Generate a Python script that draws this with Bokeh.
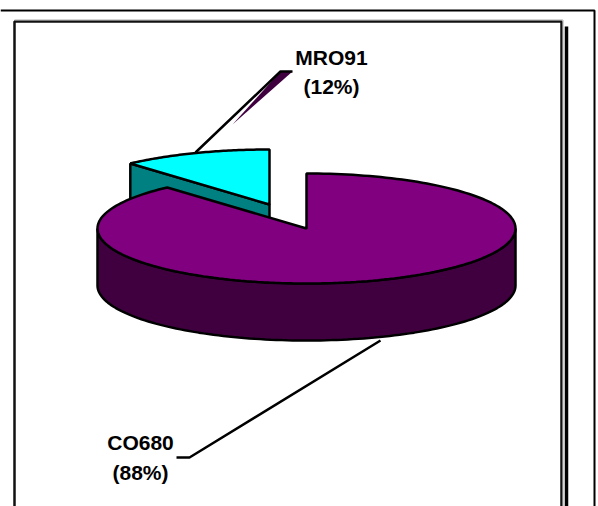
import numpy as np
from bokeh.plotting import figure
from bokeh.embed import file_html
from bokeh.resources import INLINE
from bokeh.core.properties import value

labels = ["CO680", "MRO91"]
shares = [88.4, 11.6]
percent_labels = ["(88%)", "(12%)"]
top_colors = ["#800080", "#00FFFF"]
side_colors = ["#400040", "#008080"]

W, H = 598, 506
CX, CY, RX, RY, DEPTH = 306, 228, 209, 55, 57
EXPLODE = (-37, -24)

p = figure(width=W, height=H, x_range=(0, W), y_range=(H, 0), output_backend="svg",
           toolbar_location=None, min_border=0, outline_line_color=None,
           background_fill_color="white", border_fill_color="white")
p.axis.visible = False
p.grid.visible = False
p.margin = (0, 0, 0, 0)


def ell(theta, cx=CX, cy=CY):
    # theta clockwise from top
    return cx + RX * np.sin(theta), cy - RY * np.cos(theta)


frac = np.array(shares) / sum(shares) * 2 * np.pi

# frame
p.line([0, 594, 594], [10, 10, 506], line_color="black", line_width=2)
p.line([14, 14, 561, 561], [506, 21, 21, 506], line_color="#111111", line_width=2.5)
p.line([14, 562.5, 562.5], [19.5, 19.5, 506], line_color="#aaaaaa", line_width=1)
p.line([566, 566], [26, 506], line_color="black", line_width=3.5)

# exploded slice (MRO91)
cx2, cy2 = CX + EXPLODE[0], CY + EXPLODE[1]
th2 = np.linspace(-frac[1], 0, 60)
ax, ay = ell(th2, cx2, cy2)
wx = [ax[0], cx2, cx2, ax[0]]
wy = [ay[0], cy2, cy2 + DEPTH, ay[0] + DEPTH]
p.patch(wx, wy, fill_color=side_colors[1], line_color="black", line_width=2.5)
p.patch(list(ax) + [cx2], list(ay) + [cy2], fill_color=top_colors[1], line_color="black", line_width=2.5)

# leader MRO91
p.patch([280, 292, 232], [71, 71, 124], fill_color="#400040", line_color=None)
p.line([195, 280, 292], [152, 71, 71], line_color="black", line_width=2.5)

# main slice wall (front arc)
th_w = np.linspace(np.pi / 2, 3 * np.pi / 2, 120)
bx, by = ell(th_w)
p.patch(list(bx) + list(bx[::-1]), list(by + DEPTH) + list(by[::-1]),
        fill_color=side_colors[0], line_color="black", line_width=2.5)

# main slice top
th1 = np.linspace(0, frac[0], 200)
mx, my = ell(th1)
p.patch([CX] + list(mx), [CY] + list(my), fill_color=top_colors[0], line_color="black", line_width=2.5)

# leader CO680
p.line([176, 189, 380], [457, 457, 340], line_color="black", line_width=2.5)

# labels
font = value("Liberation Sans")
p.text([331, 331], [57, 86], text=[labels[1], percent_labels[1]], text_font=font, text_font_style="bold",
       text_font_size="21px", text_align="center", text_baseline="middle", text_color="black")
p.text([140, 140], [442, 472], text=[labels[0], percent_labels[0]], text_font=font, text_font_style="bold",
       text_font_size="21px", text_align="center", text_baseline="middle", text_color="black")

open("out.html", "w").write(file_html(p, INLINE))
